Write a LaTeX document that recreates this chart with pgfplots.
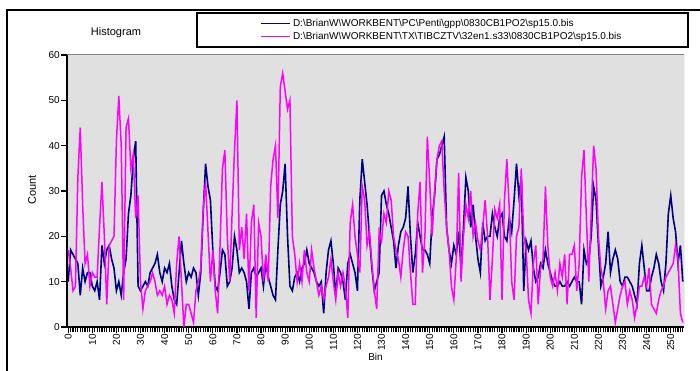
\documentclass[border=0pt]{standalone}
\usepackage{pgfplots}
\pgfplotsset{compat=1.18}
\usepackage{pgfplotstable}
\usepackage{fontspec}
\setmainfont{Liberation Sans}
\definecolor{navyc}{HTML}{000080}
\definecolor{magc}{HTML}{FF00FF}
\definecolor{bgc}{HTML}{E0E0E0}
\newcommand\bs{\textbackslash}
\pgfplotstableread{
b n m
0 10 17
1 17 13
2 16 8
3 15 9
4 14 33
5 7 44
6 13 27
7 10 14
8 12 16
9 12 9
10 9 12
11 8 11
12 10 11
13 6 22
14 18 32
15 14 20
16 17 5
17 18 18
18 15 19
19 13 20
20 8 41
21 10 51
22 7 40
23 12 6
24 15 44
25 25 46
26 29 35
27 37 38
28 41 24
29 9 29
30 8 10
31 9 4
32 10 8
33 9 9
34 12 10
35 13 12
36 14 10
37 16 7
38 12 8
39 10 7
40 13 9
41 12 5
42 14 7
43 9 6
44 6 3
45 5 14
46 12 20
47 19 10
48 14 0
49 10 5
50 12 5
51 11 3
52 13 1
53 12 8
54 7 10
55 12 13
56 25 26
57 36 32
58 31 21
59 28 10
60 17 17
61 9 8
62 8 3
63 12 18
64 17 35
65 16 39
66 9 20
67 10 10
68 13 25
69 20 39
70 17 50
71 12 17
72 13 22
73 12 15
74 10 25
75 4 8
76 12 23
77 13 27
78 11 2
79 12 23
80 13 20
81 9 10
82 14 16
83 11 10
84 9 31
85 7 37
86 6 40
87 17 24
88 27 53
89 30 56
90 36 52
91 20 48
92 9 50
93 8 20
94 11 16
95 12 10
96 10 14
97 13 10
98 14 17
99 17 12
100 14 10
101 13 17
102 12 13
103 10 10
104 9 7
105 10 9
106 3 6
107 12 9
108 17 11
109 19 15
110 14 10
111 7 6
112 13 12
113 12 9
114 10 12
115 6 9
116 14 2
117 16 23
118 14 27
119 12 20
120 8 16
121 28 12
122 37 31
123 32 28
124 27 18
125 20 21
126 13 14
127 8 8
128 10 4
129 12 21
130 29 19
131 30 25
132 27 23
133 25 30
134 22 28
135 19 20
136 13 17
137 18 15
138 21 11
139 22 17
140 24 21
141 31 20
142 20 12
143 12 5
144 16 5
145 23 25
146 20 32
147 17 12
148 17 20
149 16 42
150 14 32
151 24 20
152 29 30
153 37 37
154 38 40
155 40 41
156 42 30
157 22 22
158 17 17
159 14 9
160 18 6
161 16 15
162 21 34
163 13 10
164 22 20
165 33 27
166 30 24
167 22 30
168 27 20
169 20 23
170 15 19
171 12 17
172 23 22
173 19 28
174 20 20
175 20 6
176 25 15
177 22 26
178 20 24
179 24 27
180 25 6
181 20 28
182 19 37
183 24 26
184 21 10
185 28 6
186 36 20
187 29 22
188 33 35
189 8 20
190 19 17
191 17 6
192 19 3
193 13 14
194 10 18
195 11 5
196 14 13
197 13 15
198 17 31
199 14 18
200 12 11
201 10 9
202 9 12
203 9 8
204 10 14
205 9 11
206 9 16
207 10 5
208 9 16
209 10 16
210 11 18
211 10 8
212 10 14
213 5 33
214 17 39
215 14 24
216 15 10
217 20 25
218 31 40
219 28 35
220 18 20
221 9 13
222 11 10
223 14 4
224 21 8
225 12 9
226 15 5
227 17 1
228 15 4
229 10 7
230 9 9
231 11 10
232 11 5
233 10 8
234 9 6
235 7 2
236 5 5
237 14 9
238 18 9
239 13 11
240 8 9
241 8 13
242 11 5
243 13 4
244 16 3
245 14 6
246 10 8
247 8 9
248 14 11
249 25 12
250 29 13
251 24 14
252 21 18
253 14 15
254 18 3
255 10 1
}\histdata
\begin{document}
\begin{tikzpicture}
\useasboundingbox (0pt,0pt) rectangle (700pt,371pt);
\fill[white] (0pt,0pt) rectangle (700pt,371pt);
\draw[line width=1.5pt] (7pt,-5pt) -- (7pt,361pt) -- (705pt,361pt);
\draw[line width=1.2pt] (197pt,324pt) rectangle (688pt,358pt);
\node[font=\fontsize{11}{12}\selectfont] at (116pt,338pt) {Histogram};
\node[font=\fontsize{11}{12}\selectfont, rotate=90] at (32pt,181pt) {Count};
\begin{axis}[
  at={(67pt,44pt)}, anchor=south west,
  width=617pt, height=272pt, scale only axis,
  xmin=-0.5, xmax=255.5, ymin=0, ymax=60,
  axis x line=bottom, axis y line=left,
  axis line style={-, line width=1.5pt, black},
  axis background/.style={fill=bgc},
  xtick={0,10,...,250},
  minor xtick={0,1,...,255},
  ytick={0,10,...,60},
  tick align=outside,
  major tick length=6pt, minor tick length=5pt,
  every tick/.style={black, line width=1.2pt},
  every minor tick/.style={black, line width=1.2pt},
  /pgf/number format/assume math mode=true,
  x tick label style={rotate=90, anchor=east, font=\fontsize{10}{11}\selectfont, inner sep=1pt},
  y tick label style={font=\fontsize{10}{11}\selectfont, inner sep=1pt},
  xlabel={Bin},
  xlabel style={at={(rel axis cs:0.5,0)}, anchor=center, yshift=-30pt, font=\fontsize{10}{11}\selectfont},
  legend style={at={(rel axis cs:0.608,1.092)}, anchor=center, draw=none, fill=none,
    font=\fontsize{10}{11}\selectfont, row sep=0pt, inner sep=1pt},
  legend cell align=left,
  legend image code/.code={\draw[#1, line width=1.2pt] (0pt,0pt) -- (29pt,0pt);},
  clip=true,
]
\draw[gray, line width=1pt] (rel axis cs:0,1) -- (rel axis cs:1,1) -- (rel axis cs:1,0);
\addplot[navyc, line width=1.6pt] table[x=b, y=n] {\histdata};
\addlegendentry{D:\bs BrianW\bs WORKBENT\bs PC\bs Penti\bs gpp\bs 0830CB1PO2\bs sp15.0.bis}
\addplot[magc, line width=1.5pt] table[x=b, y=m] {\histdata};
\addlegendentry{D:\bs BrianW\bs WORKBENT\bs TX\bs TIBCZTV\bs 32en1.s33\bs 0830CB1PO2\bs sp15.0.bis}
\end{axis}
\end{tikzpicture}
\end{document}
